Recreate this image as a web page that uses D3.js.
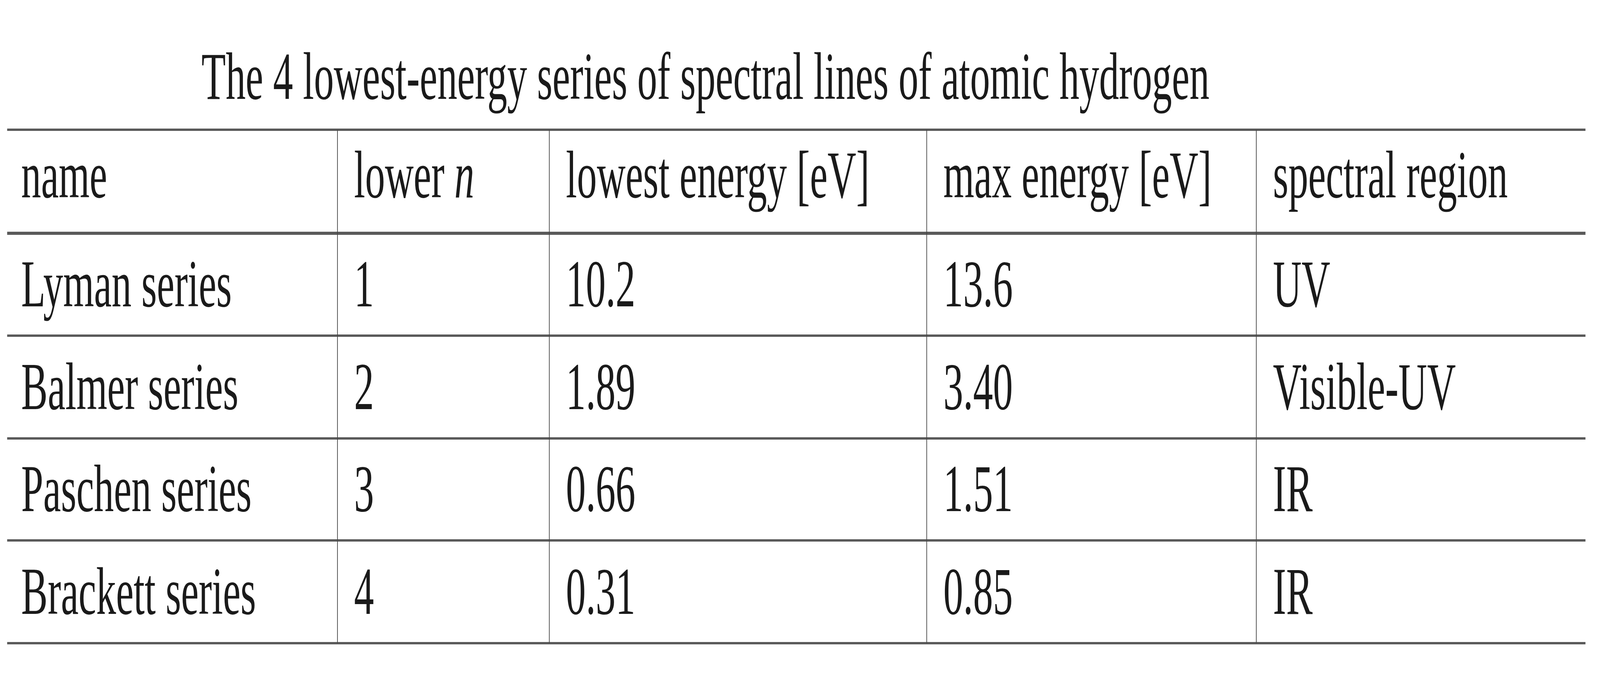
<!DOCTYPE html>
<html><head><meta charset="utf-8">
<script src="https://cdn.jsdelivr.net/npm/d3@7"></script>
<style>html,body{margin:0;padding:0;background:#fff;overflow:hidden}svg{display:block;width:100vw;height:100vh}</style></head>
<body><svg id="c" viewBox="0 0 6932 1730" preserveAspectRatio="none"></svg>
<script>
const title = "The 4 lowest-energy series of spectral lines of atomic hydrogen";
const headers = ["name", "lower n", "lowest energy [eV]", "max energy [eV]", "spectral region"];
const names = ["Lyman series", "Balmer series", "Paschen series", "Brackett series"];
const lowerN = ["1", "2", "3", "4"];
const lowestEnergy = ["10.2", "1.89", "0.66", "0.31"];
const maxEnergy = ["13.6", "3.40", "1.51", "0.85"];
const region = ["UV", "Visible-UV", "IR", "IR"];

const svg = d3.select("#c");
const font = "'Liberation Serif', 'DejaVu Serif', serif";
const colEdges = [31, 1462, 2380, 4015, 5443, 6869];
const rowEdges = [332, 597, 859, 1122, 1383, 1646];
const fs = 172;
const ink = "#1a1a1a", rule = "#5a5a5a";

svg.append("text").attr("x", 873).attr("y", 253).attr("font-family", font)
  .attr("font-size", fs).attr("fill", ink).text(title);

const rows = [headers].concat(names.map((n, i) => [n, lowerN[i], lowestEnergy[i], maxEnergy[i], region[i]]));

rowEdges.forEach((y, i) => svg.append("line").attr("x1", colEdges[0]).attr("x2", colEdges[5])
  .attr("y1", y).attr("y2", y).attr("stroke", rule).attr("stroke-width", i === 1 ? 8 : 6));
colEdges.slice(1, 5).forEach(x => svg.append("line").attr("x1", x).attr("x2", x)
  .attr("y1", rowEdges[0]).attr("y2", rowEdges[5]).attr("stroke", "#444").attr("stroke-width", 3));

rows.forEach((r, ri) => {
  const yBot = rowEdges[ri + 1];
  const base = yBot - (ri === 0 ? 92 : 75);
  r.forEach((t, ci) => {
    const x = colEdges[ci] + (ci === 0 ? 61 : 72);
    const txt = svg.append("text").attr("x", x).attr("y", base).attr("font-family", font)
      .attr("font-size", fs).attr("fill", ink);
    if (ri === 0 && ci === 1) {
      txt.append("tspan").text("lower ");
      txt.append("tspan").attr("font-style", "italic").text("n");
    } else txt.text(t);
  });
});
</script></body></html>
